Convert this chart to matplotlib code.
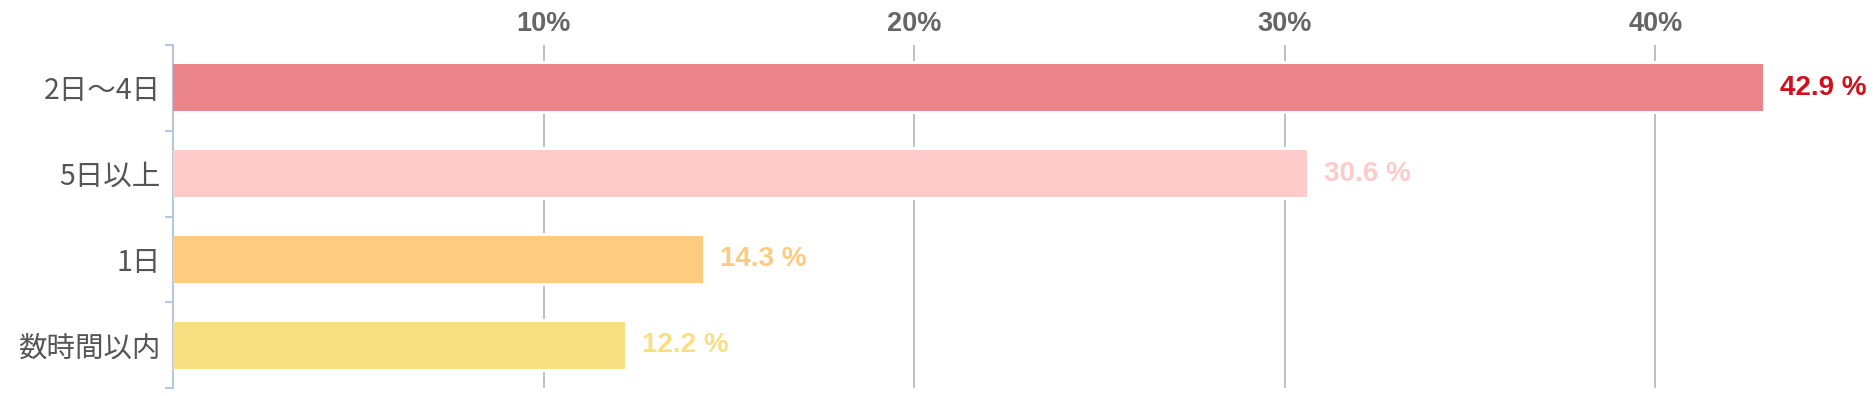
import matplotlib
matplotlib.use('Agg')
import matplotlib.pyplot as plt
import numpy as np

# data
categories = ['2日〜4日', '5日以上', '1日', '数時間以内']
values = [42.9, 30.6, 14.3, 12.2]
bar_colors = ['#EC858B', '#FECACA', '#FECB80', '#F8DF82']
label_colors = ['#D0101A', '#FECACA', '#FECB80', '#F8DF82']
xticks = [10, 20, 30, 40]
xtick_labels = ['10%', '20%', '30%', '40%']

plt.rcParams['font.family'] = ['Noto Sans CJK JP', 'DejaVu Sans']
latin = ['Liberation Sans', 'DejaVu Sans']

fig = plt.figure(figsize=(18.73, 3.96), dpi=100)
ax = fig.add_axes([173/1873, 8/396, 1 - 173/1873, 343/396])

y = np.arange(len(categories))
# white halo so the grid stops a little short of each bar
ax.barh(y, values, height=0.62, color='white', linewidth=0, zorder=2)
ax.barh(y, values, height=0.55, color=bar_colors, linewidth=0, zorder=3)

for yi, v, c in zip(y, values, label_colors):
    ax.text(v + 0.45, yi, f'{v:.1f} %', va='center', ha='left', color=c,
            fontsize=20, fontweight='bold', family=latin)

ax.set_xlim(0, (1873 - 173) / 37.06)
ax.set_ylim(3.5, -0.5)

# grid
for xt in xticks:
    ax.axvline(xt, color='#BBBBBB', linewidth=1.3, zorder=1)

ax.xaxis.tick_top()
ax.set_xticks(xticks)
ax.set_xticklabels(xtick_labels, fontsize=19.5, fontweight='bold', color='#666666', family=latin)
ax.tick_params(axis='x', length=0, pad=6)

ax.set_yticks(y)
ax.set_yticklabels(categories, fontsize=20.5, color='#555555')
ax.tick_params(axis='y', length=0, pad=9)
ax.set_yticks(np.arange(-0.5, 4, 1), minor=True)
ax.tick_params(axis='y', which='minor', length=6, width=1.5, color='#B8C8DA')

for s in ['top', 'right', 'bottom']:
    ax.spines[s].set_visible(False)
ax.spines['left'].set_color('#B8C8DA')
ax.spines['left'].set_linewidth(1.5)

fig.savefig('out.png', dpi=100)
